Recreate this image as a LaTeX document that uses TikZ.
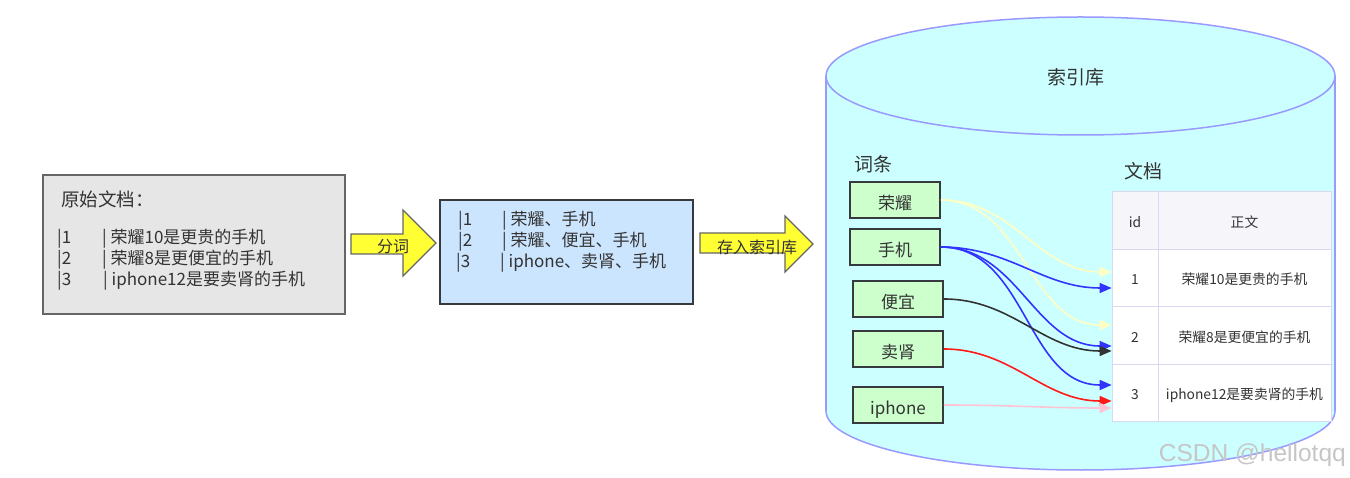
\documentclass[tikz,border=0pt]{standalone}
\usepackage{fontspec}
\setmainfont{Noto Sans CJK SC}
\newfontfamily\wmfont{Liberation Sans}
\usetikzlibrary{arrows.meta}
\definecolor{txt}{HTML}{333333}
\definecolor{cylfill}{HTML}{CCFFFF}
\definecolor{cylline}{HTML}{9999FF}
\definecolor{grayfill}{HTML}{E6E6E6}
\definecolor{grayline}{HTML}{666666}
\definecolor{bluefill}{HTML}{CCE5FF}
\definecolor{darkline}{HTML}{36393D}
\definecolor{greenfill}{HTML}{CCFFCC}
\definecolor{arrowyellow}{HTML}{FFFF33}
\definecolor{tabhead}{HTML}{F5F5FA}
\definecolor{tabline}{HTML}{D8D8F0}
\definecolor{lyellow}{HTML}{FFFFC4}
\definecolor{lblue}{HTML}{3333FF}
\definecolor{ldark}{HTML}{333333}
\definecolor{lred}{HTML}{FF1A1A}
\definecolor{lpink}{HTML}{FFC4D4}
\tikzset{
  body/.style={font=\fontsize{17}{20}\selectfont, yshift=-2pt},
  termbox/.style={draw=darkline, line width=1.6pt, fill=greenfill, minimum width=90pt, minimum height=36pt, text height=21pt, text depth=2pt, font=\fontsize{17}{20}\selectfont},
  cell/.style={draw=tabline, line width=0.8pt, minimum height=57.5pt, text height=15pt, text depth=1.5pt, font=\fontsize{13.8}{16}\selectfont},
  idcell/.style={cell, minimum width=46pt},
  txtcell/.style={cell, minimum width=173pt},
  blockarrow/.style={draw=grayline, line width=1.2pt, fill=arrowyellow},
  link/.style={line width=1.6pt, -{Triangle[length=12pt, width=10pt]}},
  heading/.style={font=\fontsize{19}{22}\selectfont, yshift=-1pt},
}
\begin{document}
\begin{tikzpicture}[x=1pt, y=-1pt, every node/.style={inner sep=0pt, text=txt}]
\useasboundingbox (0,0) rectangle (1350,478);
\fill[white] (0,0) rectangle (1350,478);

% ---------- cylinder ----------
\fill[cylfill] (826,76) rectangle (1335,411);
\fill[cylfill] (1080.5,411) ellipse [x radius=254.5, y radius=59];
\draw[cylline, line width=1.5pt, fill=cylfill] (1080.5,76) ellipse [x radius=254.5, y radius=59];
\draw[cylline, line width=1.5pt] (826,76) -- (826,411);
\draw[cylline, line width=1.5pt] (1335,76) -- (1335,411);
\begin{scope}
  \clip (800,411) rectangle (1360,480);
  \draw[cylline, line width=1.5pt] (1080.5,411) ellipse [x radius=254.5, y radius=59];
\end{scope}
\node[heading] (dbname) at (1076,76) {索引库};

% ---------- left box ----------
\node[draw=grayline, line width=1.5pt, fill=grayfill, minimum width=302pt, minimum height=139pt] (orig) at (194,244.5) {};
\node[anchor=west, font=\fontsize{18.5}{22}\selectfont, yshift=-1.5pt] (origtitle) at (61,198) {原始文档：};
\node[anchor=west, body] (o1a) at (57,237) {|1};
\node[anchor=west, body] (o1b) at (102,237) {| 荣耀10是更贵的手机};
\node[anchor=west, body] (o2a) at (57,258) {|2};
\node[anchor=west, body] (o2b) at (102,258) {| 荣耀8是更便宜的手机};
\node[anchor=west, body] (o3a) at (57,279) {|3};
\node[anchor=west, body] (o3b) at (103,279) {| iphone12是要卖肾的手机};

% ---------- arrow 1 ----------
\draw[blockarrow] (351,234) -- (403,234) -- (403,210) -- (436,243) -- (403,276) -- (403,254) -- (351,254) -- cycle;
\node[font=\fontsize{16}{18}\selectfont, yshift=-2pt] (fenci) at (393,245) {分词};

% ---------- middle box ----------
\node[draw=darkline, line width=1.5pt, fill=bluefill, minimum width=253pt, minimum height=104pt] (terms) at (566.5,252) {};
\node[anchor=west, body] (m1a) at (458,219) {|1};
\node[anchor=west, body] (m1b) at (502,219) {| 荣耀、手机};
\node[anchor=west, body] (m2a) at (458,240) {|2};
\node[anchor=west, body] (m2b) at (502,240) {| 荣耀、便宜、手机};
\node[anchor=west, body] (m3a) at (456,261) {|3};
\node[anchor=west, body] (m3b) at (500,261) {| iphone、卖肾、手机};

% ---------- arrow 2 ----------
\draw[blockarrow] (700,233) -- (785,233) -- (785,216) -- (813,244) -- (785,272) -- (785,253) -- (700,253) -- cycle;
\node[font=\fontsize{16}{18}\selectfont, yshift=-2pt] (store) at (757,245) {存入索引库};

% ---------- terms ----------
\node[anchor=west, heading] (citiao) at (854,163) {词条};
\node[termbox] (ry) at (895,200) {荣耀};
\node[termbox] (sj) at (895,247) {手机};
\node[termbox] (py) at (898,299) {便宜};
\node[termbox] (ms) at (898,349) {卖肾};
\node[termbox] (ip) at (898,405) {iphone};

% ---------- table ----------
\node[anchor=west, heading] (wendang) at (1124,170) {文档};
\node[idcell, fill=tabhead] (hid) at (1135,220.5) {id};
\node[txtcell, fill=tabhead] (hbody) at (1244.5,220.5) {正文};
\node[idcell, fill=white] (r1id) at (1135,278) {1};
\node[txtcell, fill=white] (r1body) at (1244.5,278) {荣耀10是更贵的手机};
\node[idcell, fill=white] (r2id) at (1135,335.5) {2};
\node[txtcell, fill=white] (r2body) at (1244.5,335.5) {荣耀8是更便宜的手机};
\node[idcell, fill=white] (r3id) at (1135,393) {3};
\node[txtcell, fill=white] (r3body) at (1244.5,393) {iphone12是要卖肾的手机};

% ---------- links ----------
\draw[link, lyellow] (ry.east) to[out=0, in=180] ([yshift=6pt]r1id.west);
\draw[link, lyellow] (ry.east) to[out=0, in=180] ([yshift=10.5pt]r2id.west);
\draw[link, lblue] (sj.east) to[out=0, in=180] ([yshift=-10pt]r1id.west);
\draw[link, lblue] (sj.east) to[out=0, in=180] ([yshift=-10.5pt]r2id.west);
\draw[link, lblue] (sj.east) to[out=0, in=180] ([yshift=8pt]r3id.west);
\draw[link, ldark] (py.east) to[out=0, in=180] ([yshift=-15.5pt]r2id.west);
\draw[link, lred] (ms.east) to[out=0, in=180] ([yshift=-8pt]r3id.west);
\draw[link, lpink] (ip.east) to[out=0, in=180] ([yshift=-15pt]r3id.west);

% ---------- watermark ----------
\node[anchor=east, text=gray!45, font=\wmfont\fontsize{24.5}{26}\selectfont] (wm) at (1346,455) {CSDN @hellotqq};
\end{tikzpicture}
\end{document}
